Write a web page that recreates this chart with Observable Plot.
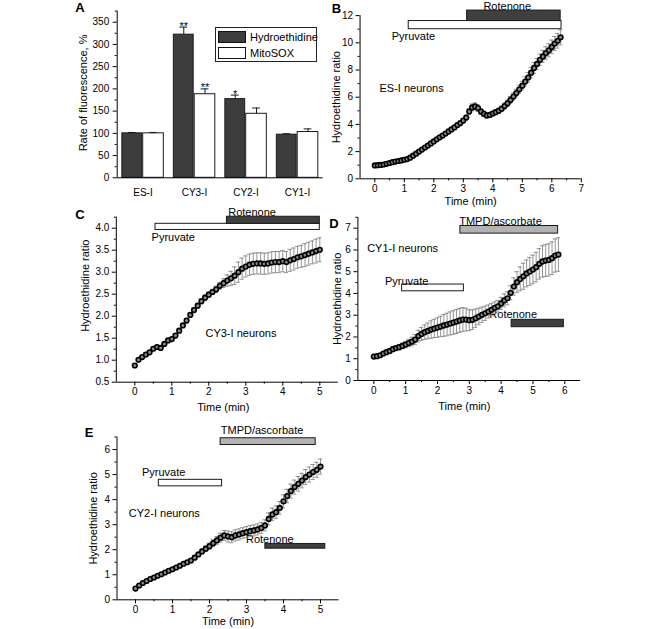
<!DOCTYPE html>
<html><head><meta charset="utf-8">
<script src="https://cdn.jsdelivr.net/npm/d3@7"></script>
<script src="https://cdn.jsdelivr.net/npm/@observablehq/plot@0.6"></script>
<style>
html,body{margin:0;padding:0;background:#fff;}
#root{position:relative;width:661px;height:629px;overflow:hidden;font-family:"Liberation Sans",Arial,Helvetica,sans-serif;}
.panel{position:absolute;}
.legend{position:absolute;border:1px solid #222;background:#fff;font-size:11px;color:#000;box-sizing:border-box;}
.legend .row{position:absolute;left:2px;height:14px;display:flex;align-items:center;}
.legend .sw{width:28px;height:12px;border:1px solid #111;box-sizing:border-box;margin-right:4px;}
</style></head><body><div id="root"></div>
<script>
// ---------- Panel A data ----------
const barCategories = ["ES-I", "CY3-I", "CY2-I", "CY1-I"];
const hydroMean = [100, 322, 177, 97];
const hydroErr = [2, 17, 9, 2];
const mitoMean = [100, 188, 144, 103];
const mitoErr = [2, 12, 13, 7];
const hydroStars = ["", "**", "*", ""];
const mitoStars = ["", "**", "", ""];
const seriesNames = ["Hydroethidine", "MitoSOX"];

// ---------- Panel B: ES-I neurons ----------
const esTime = [0,0.1,0.2,0.3,0.4,0.5,0.6,0.7,0.8,0.9,1,1.1,1.2,1.3,1.4,1.5,1.6,1.7,1.8,1.9,2,2.1,2.2,2.3,2.4,2.5,2.6,2.7,2.8,2.9,3,3.1,3.2,3.3,3.4,3.5,3.6,3.7,3.8,3.9,4,4.1,4.2,4.3,4.4,4.5,4.6,4.7,4.8,4.9,5,5.1,5.2,5.3,5.4,5.5,5.6,5.7,5.8,5.9,6,6.1,6.2,6.3];
const esRatio = [0.98,1.00,1.02,1.05,1.10,1.16,1.22,1.27,1.31,1.35,1.40,1.45,1.55,1.70,1.85,2.00,2.15,2.30,2.45,2.60,2.75,2.90,3.05,3.18,3.33,3.48,3.63,3.78,3.95,4.10,4.28,4.50,4.95,5.25,5.32,5.20,4.95,4.78,4.66,4.70,4.80,4.90,5.00,5.15,5.35,5.55,5.80,6.05,6.30,6.58,6.85,7.15,7.45,7.80,8.15,8.45,8.75,9.00,9.25,9.45,9.70,9.95,10.15,10.40];
const esErr = [0.05,0.05,0.05,0.05,0.06,0.06,0.06,0.06,0.07,0.07,0.07,0.07,0.08,0.08,0.08,0.09,0.09,0.09,0.10,0.10,0.10,0.11,0.11,0.12,0.12,0.12,0.13,0.13,0.14,0.14,0.15,0.18,0.22,0.25,0.26,0.25,0.22,0.20,0.18,0.16,0.16,0.18,0.20,0.20,0.22,0.24,0.25,0.27,0.28,0.30,0.32,0.34,0.36,0.38,0.40,0.40,0.42,0.44,0.46,0.48,0.50,0.52,0.54,0.55];
const esTreatments = [{agent: "Pyruvate", start: 1.15, end: 6.33}, {agent: "Rotenone", start: 3.13, end: 6.30}];

// ---------- Panel C: CY3-I neurons ----------
const cy3Time = [0,0.1,0.2,0.3,0.4,0.5,0.6,0.7,0.8,0.9,1,1.1,1.2,1.3,1.4,1.5,1.6,1.7,1.8,1.9,2,2.1,2.2,2.3,2.4,2.5,2.6,2.7,2.8,2.9,3,3.1,3.2,3.3,3.4,3.5,3.6,3.7,3.8,3.9,4,4.1,4.2,4.3,4.4,4.5,4.6,4.7,4.8,4.9,5];
const cy3Ratio = [0.88,1.01,1.07,1.13,1.18,1.26,1.30,1.28,1.37,1.45,1.48,1.56,1.67,1.79,1.90,2.03,2.14,2.24,2.34,2.42,2.49,2.55,2.61,2.69,2.75,2.81,2.86,2.92,3.00,3.08,3.13,3.17,3.19,3.20,3.20,3.19,3.20,3.22,3.23,3.23,3.25,3.23,3.27,3.30,3.34,3.36,3.39,3.42,3.45,3.48,3.51];
const cy3Err = [0.03,0.03,0.03,0.03,0.03,0.03,0.03,0.03,0.03,0.03,0.03,0.04,0.04,0.04,0.05,0.05,0.05,0.05,0.06,0.06,0.06,0.06,0.07,0.08,0.10,0.13,0.16,0.20,0.23,0.24,0.24,0.24,0.24,0.24,0.24,0.24,0.24,0.24,0.24,0.24,0.24,0.24,0.25,0.25,0.25,0.25,0.26,0.26,0.26,0.27,0.27];
const cy3Treatments = [{agent: "Pyruvate", start: 0.56, end: 5.0}, {agent: "Rotenone", start: 2.49, end: 5.0}];

// ---------- Panel D: CY1-I neurons ----------
const cy1Time = [0,0.1,0.2,0.3,0.4,0.5,0.6,0.7,0.8,0.9,1,1.1,1.2,1.3,1.4,1.5,1.6,1.7,1.8,1.9,2,2.1,2.2,2.3,2.4,2.5,2.6,2.7,2.8,2.9,3,3.1,3.2,3.3,3.4,3.5,3.6,3.7,3.8,3.9,4,4.1,4.2,4.3,4.4,4.5,4.6,4.7,4.8,4.9,5,5.1,5.2,5.3,5.4,5.5,5.6,5.7,5.8];
const cy1Ratio = [1.10,1.12,1.16,1.24,1.30,1.36,1.44,1.49,1.53,1.59,1.65,1.72,1.79,1.88,2.04,2.14,2.22,2.28,2.34,2.39,2.43,2.48,2.53,2.57,2.62,2.66,2.71,2.76,2.80,2.80,2.77,2.79,2.86,2.94,3.02,3.09,3.17,3.25,3.34,3.41,3.54,3.68,3.78,4.03,4.32,4.52,4.67,4.79,4.92,5.01,5.10,5.21,5.36,5.47,5.51,5.54,5.62,5.74,5.79];
const cy1Err = [0.05,0.05,0.06,0.07,0.08,0.09,0.10,0.11,0.12,0.13,0.15,0.17,0.20,0.23,0.27,0.30,0.33,0.36,0.40,0.42,0.45,0.47,0.50,0.52,0.53,0.54,0.55,0.55,0.55,0.52,0.48,0.45,0.42,0.38,0.35,0.33,0.30,0.28,0.27,0.27,0.28,0.30,0.30,0.32,0.40,0.48,0.55,0.60,0.62,0.64,0.66,0.68,0.70,0.72,0.73,0.74,0.75,0.76,0.77];
const cy1Treatments = [{agent: "Pyruvate", start: 0.89, end: 2.83}, {agent: "TMPD/ascorbate", start: 2.72, end: 5.79}, {agent: "Rotenone", start: 4.33, end: 5.97}];

// ---------- Panel E: CY2-I neurons ----------
const cy2Time = [0,0.1,0.2,0.3,0.4,0.5,0.6,0.7,0.8,0.9,1,1.1,1.2,1.3,1.4,1.5,1.6,1.7,1.8,1.9,2,2.1,2.2,2.3,2.4,2.5,2.6,2.7,2.8,2.9,3,3.1,3.2,3.3,3.4,3.5,3.6,3.7,3.8,3.9,4,4.1,4.2,4.3,4.4,4.5,4.6,4.7,4.8,4.9,5];
const cy2Ratio = [0.45,0.57,0.67,0.75,0.83,0.89,0.96,1.02,1.09,1.16,1.22,1.29,1.36,1.44,1.50,1.57,1.68,1.81,1.93,2.04,2.14,2.26,2.37,2.48,2.57,2.53,2.50,2.57,2.61,2.66,2.70,2.74,2.77,2.81,2.87,2.97,3.23,3.41,3.50,3.67,3.93,4.14,4.34,4.50,4.63,4.76,4.90,5.00,5.10,5.19,5.32];
const cy2Err = [0.04,0.04,0.04,0.04,0.04,0.04,0.04,0.04,0.04,0.04,0.04,0.05,0.05,0.05,0.06,0.06,0.07,0.08,0.09,0.10,0.12,0.14,0.16,0.18,0.20,0.22,0.22,0.22,0.22,0.22,0.22,0.22,0.22,0.22,0.22,0.22,0.24,0.25,0.25,0.25,0.26,0.27,0.28,0.28,0.29,0.29,0.30,0.30,0.30,0.30,0.30];
const cy2Treatments = [{agent: "Pyruvate", start: 0.63, end: 2.34}, {agent: "TMPD/ascorbate", start: 2.30, end: 4.87}, {agent: "Rotenone", start: 3.51, end: 5.13}];

// ---------- styling ----------
const FONT = '"Liberation Sans", Arial, Helvetica, sans-serif';
const DARK = "#3d3d3d";
const agentFill = {"Pyruvate": "white", "Rotenone": "#3f3f3f", "TMPD/ascorbate": "#b3b3b3"};
const root = document.getElementById("root");

function place(node, left, top) {
  const d = document.createElement("div");
  d.className = "panel";
  d.style.left = left + "px";
  d.style.top = top + "px";
  d.appendChild(node);
  root.appendChild(d);
}
function margins(box, fr) {
  return {
    width: box.width, height: box.height,
    marginLeft: fr.x0 - box.left, marginRight: box.left + box.width - fr.x1,
    marginTop: fr.yTop - box.top, marginBottom: box.top + box.height - fr.yBot
  };
}
const plotStyle = {background: "transparent", overflow: "visible", fontFamily: FONT, fontSize: "10px", color: "black"};

function axesMarks(cfg) {
  return [
    Plot.axisY(cfg.yMajor, {tickSize: 4, tickPadding: 3, fontSize: 10, tickFormat: cfg.yFormat}),
    Plot.axisY(cfg.yMinor, {tickSize: 2, tickFormat: () => ""}),
    Plot.axisX(cfg.xMajor, {tickSize: 4, tickPadding: 2, fontSize: 10, tickFormat: d => String(d)}),
    Plot.axisX(cfg.xMinor, {tickSize: 2, tickFormat: () => ""}),
    Plot.ruleX([cfg.xDomain[0]], {stroke: "black", strokeWidth: 1}),
    Plot.ruleY([cfg.yDomain[0]], {stroke: "black", strokeWidth: 1})
  ];
}

function curvePanel(cfg) {
  const rows = cfg.t.map((t, i) => ({t, v: cfg.v[i], e: cfg.e[i]}));
  const pxPerUnit = (cfg.fr.x1 - cfg.fr.x0) / (cfg.xDomain[1] - cfg.xDomain[0]);
  const cap = 2.2 / pxPerUnit;
  const lay = cfg.layout;
  const svg = Plot.plot({
    ...margins(cfg.box, cfg.fr),
    style: plotStyle,
    x: {domain: cfg.xDomain, label: null},
    y: {domain: cfg.yDomain, label: null},
    marks: [
      ...axesMarks(cfg),
      // treatment bars
      Plot.rect(cfg.treatments, {
        x1: "start", x2: "end",
        y1: d => lay[d.agent].y1, y2: d => lay[d.agent].y2,
        fill: d => agentFill[d.agent], stroke: "#1a1a1a", strokeWidth: 1
      }),
      Plot.text(cfg.treatments, {
        x: d => lay[d.agent].lx, y: d => lay[d.agent].ly, text: "agent",
        textAnchor: d => lay[d.agent].anchor, lineAnchor: "middle", fontSize: 11, fill: "black"
      }),
      // error bars
      Plot.ruleX(rows, {x: "t", y1: d => d.v - d.e, y2: d => d.v + d.e, stroke: "#777", strokeWidth: 0.8}),
      Plot.ruleY(rows, {y: d => d.v + d.e, x1: d => d.t - cap, x2: d => d.t + cap, stroke: "#777", strokeWidth: 0.8}),
      Plot.ruleY(rows, {y: d => d.v - d.e, x1: d => d.t - cap, x2: d => d.t + cap, stroke: "#777", strokeWidth: 0.8}),
      // mean markers
      Plot.dot(rows, {x: "t", y: "v", r: 2.3, fill: "#8a8a8a", stroke: "black", strokeWidth: 1.6}),
      // annotations
      Plot.text([cfg.note.text], {x: () => cfg.note.x, y: () => cfg.note.y, text: d => d, textAnchor: "start", lineAnchor: "middle", fontSize: 11}),
      Plot.text(["Hydroethidine ratio"], {frameAnchor: "left", rotate: -90, textAnchor: "middle", lineAnchor: "middle", dx: cfg.yLabelDx, dy: cfg.yLabelDy || 0, text: d => d, fontSize: 11}),
      Plot.text(["Time (min)"], {frameAnchor: "bottom", textAnchor: "middle", lineAnchor: "middle", dx: cfg.timeDx || 0, dy: cfg.timeDy, text: d => d, fontSize: 11}),
      Plot.text([cfg.letter], {frameAnchor: "top-left", dx: cfg.letterDx, dy: cfg.letterDy, text: d => d, fontSize: 13, fontWeight: "bold", textAnchor: "middle", lineAnchor: "middle"})
    ]
  });
  place(svg, cfg.box.left, cfg.box.top);
}

// ---------- Panel A ----------
(function () {
  const idx = barCategories.map((_, i) => i);
  const box = {left: 30, top: 0, width: 305, height: 205};
  const fr = {x0: 116.7, x1: 322.7, yTop: 10.6, yBot: 177.3};
  const hx = i => i - 0.2075, mx = i => i + 0.205;
  const svg = Plot.plot({
    ...margins(box, fr),
    style: plotStyle,
    x: {domain: [-0.5, 3.5], label: null},
    y: {domain: [0, 375], label: null},
    marks: [
      Plot.axisY(d3.range(0, 351, 50), {tickSize: 4, tickPadding: 4, fontSize: 10}),
      Plot.axisY(d3.range(25, 376, 50), {tickSize: 2, tickFormat: () => ""}),
      Plot.axisX(idx, {tickSize: 0, tickPadding: 11, fontSize: 10, tickFormat: i => barCategories[i]}),
      Plot.rect(idx, {x1: i => i - 0.40, x2: i => i - 0.015, y1: () => 0, y2: i => hydroMean[i], fill: DARK, stroke: "#1a1a1a", strokeWidth: 1}),
      Plot.rect(idx, {x1: i => i + 0.005, x2: i => i + 0.405, y1: () => 0, y2: i => mitoMean[i], fill: "white", stroke: "#1a1a1a", strokeWidth: 1}),
      Plot.ruleX(idx, {x: hx, y1: i => hydroMean[i], y2: i => hydroMean[i] + hydroErr[i], stroke: "#1a1a1a"}),
      Plot.ruleY(idx, {y: i => hydroMean[i] + hydroErr[i], x1: i => hx(i) - 0.075, x2: i => hx(i) + 0.075, stroke: "#1a1a1a"}),
      Plot.ruleX(idx, {x: mx, y1: i => mitoMean[i], y2: i => mitoMean[i] + mitoErr[i], stroke: "#1a1a1a"}),
      Plot.ruleY(idx, {y: i => mitoMean[i] + mitoErr[i], x1: i => mx(i) - 0.075, x2: i => mx(i) + 0.075, stroke: "#1a1a1a"}),
      Plot.text(idx, {x: hx, y: i => hydroMean[i] + hydroErr[i], text: i => hydroStars[i], lineAnchor: "bottom", dy: 2.5, fontSize: 11}),
      Plot.text(idx, {x: mx, y: i => mitoMean[i] + mitoErr[i], text: i => mitoStars[i], lineAnchor: "bottom", dy: 2.5, fontSize: 11}),
      Plot.ruleX([-0.5], {stroke: "black"}),
      Plot.ruleY([0], {stroke: "black"}),
      Plot.text(["Rate of fluorescence, %"], {frameAnchor: "left", rotate: -90, textAnchor: "middle", lineAnchor: "middle", dx: -33.7, dy: -1.5, text: d => d, fontSize: 11}),
      Plot.text(["A"], {frameAnchor: "top-left", dx: -37.2, dy: -3.1, text: d => d, fontSize: 13, fontWeight: "bold", textAnchor: "middle", lineAnchor: "middle"})
    ]
  });
  place(svg, box.left, box.top);
  // legend
  const lg = document.createElement("div");
  lg.className = "legend";
  Object.assign(lg.style, {left: "215px", top: "27px", width: "102px", height: "35px"});
  const fills = [DARK, "white"];
  seriesNames.forEach((name, k) => {
    const row = document.createElement("div");
    row.className = "row";
    row.style.top = (2 + k * 15.5) + "px";
    const sw = document.createElement("span");
    sw.className = "sw";
    sw.style.background = fills[k];
    const tx = document.createElement("span");
    tx.textContent = name;
    row.appendChild(sw); row.appendChild(tx);
    lg.appendChild(row);
  });
  root.appendChild(lg);
})();

// ---------- Panel B ----------
curvePanel({
  box: {left: 325, top: 0, width: 336, height: 205},
  fr: {x0: 359.55, x1: 580.8, yTop: 15.1, yBot: 178.3},
  xDomain: [-0.5, 7], yDomain: [0, 12],
  t: esTime, v: esRatio, e: esErr, treatments: esTreatments,
  yMajor: d3.range(0, 12.1, 2), yMinor: d3.range(1, 12, 2),
  xMajor: d3.range(0, 8), xMinor: d3.range(0.5, 7, 1),
  layout: {
    "Pyruvate": {y1: 11.0, y2: 11.6, lx: 1.31, ly: 10.49, anchor: "start"},
    "Rotenone": {y1: 11.6, y2: 12.37, lx: 4.49, ly: 12.69, anchor: "middle"}
  },
  note: {text: "ES-I neurons", x: 0.16, y: 6.64},
  yLabelDx: -23.5, timeDy: 22.4, letter: "B", letterDx: -23.5, letterDy: -7.1
});

// ---------- Panel C ----------
curvePanel({
  box: {left: 30, top: 205, width: 310, height: 210},
  fr: {x0: 115.8, x1: 337.8, yTop: 216.7, yBot: 381.7},
  xDomain: [-0.5, 5.5], yDomain: [0.5, 4.25],
  t: cy3Time, v: cy3Ratio, e: cy3Err, treatments: cy3Treatments,
  yMajor: d3.range(0.5, 4.01, 0.5), yMinor: d3.range(0.75, 4.26, 0.5), yFormat: d => d.toFixed(1),
  xMajor: d3.range(0, 6), xMinor: d3.range(0.5, 5.5, 1),
  layout: {
    "Pyruvate": {y1: 3.96, y2: 4.10, lx: 1.04, ly: 3.80, anchor: "start"},
    "Rotenone": {y1: 4.10, y2: 4.26, lx: 3.17, ly: 4.36, anchor: "middle"}
  },
  note: {text: "CY3-I neurons", x: 1.91, y: 1.60},
  yLabelDx: -30.8, yLabelDy: -14, timeDx: -4, timeDy: 25, letter: "C", letterDx: -36.3, letterDy: -2.2
});

// ---------- Panel D ----------
curvePanel({
  box: {left: 325, top: 205, width: 336, height: 210},
  fr: {x0: 357.4, x1: 580.2, yTop: 216.8, yBot: 380},
  xDomain: [-0.5, 6.5], yDomain: [0, 7.5],
  t: cy1Time, v: cy1Ratio, e: cy1Err, treatments: cy1Treatments,
  yMajor: d3.range(0, 7.1, 1), yMinor: d3.range(0.5, 7.6, 1),
  xMajor: d3.range(0, 7), xMinor: d3.range(0.5, 6.5, 1),
  layout: {
    "Pyruvate": {y1: 4.10, y2: 4.41, lx: 1.03, ly: 4.55, anchor: "start"},
    "TMPD/ascorbate": {y1: 6.75, y2: 7.10, lx: 3.98, ly: 7.32, anchor: "middle"},
    "Rotenone": {y1: 2.45, y2: 2.79, lx: 4.38, ly: 3.02, anchor: "start"}
  },
  note: {text: "CY1-I neurons", x: -0.21, y: 6.05},
  yLabelDx: -20.7, timeDx: -5, timeDy: 26, letter: "D", letterDx: -23.9, letterDy: 6.7
});

// ---------- Panel E ----------
curvePanel({
  box: {left: 30, top: 415, width: 310, height: 214},
  fr: {x0: 116.5, x1: 338.5, yTop: 436.5, yBot: 599.3},
  xDomain: [-0.5, 5.5], yDomain: [0, 6.5],
  t: cy2Time, v: cy2Ratio, e: cy2Err, treatments: cy2Treatments,
  yMajor: d3.range(0, 6.1, 1), yMinor: d3.range(0.5, 6.6, 1),
  xMajor: d3.range(0, 6), xMinor: d3.range(0.5, 5.5, 1),
  layout: {
    "Pyruvate": {y1: 4.53, y2: 4.79, lx: 0.76, ly: 5.09, anchor: "start"},
    "TMPD/ascorbate": {y1: 6.18, y2: 6.45, lx: 3.42, ly: 6.76, anchor: "middle"},
    "Rotenone": {y1: 2.04, y2: 2.23, lx: 3.63, ly: 2.41, anchor: "start"}
  },
  note: {text: "CY2-I neurons", x: -0.18, y: 3.43},
  yLabelDx: -23.2, timeDy: 21.7, letter: "E", letterDx: -28, letterDy: -4.5
});
</script>
</body></html>
